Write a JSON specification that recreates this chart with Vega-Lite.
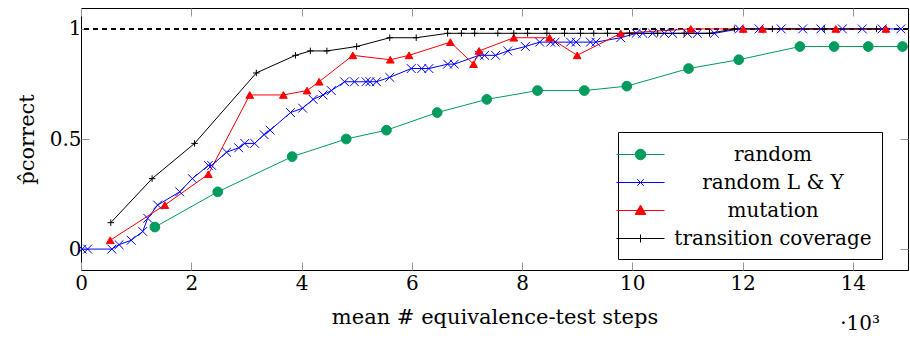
{
  "$schema": "https://vega.github.io/schema/vega-lite/v6.json",
  "width": 827,
  "height": 262,
  "autosize": {"type": "none"},
  "padding": {"left": 81, "top": 8, "right": 2, "bottom": 69},
  "config": {
    "font": "DejaVu Serif",
    "view": {"stroke": "black", "strokeWidth": 1},
    "axis": {
      "domain": false,
      "grid": false,
      "labelFlush": false,
      "tickColor": "#999999",
      "tickSize": -8,
      "tickWidth": 1,
      "labelFont": "DejaVu Serif",
      "labelFontSize": 20,
      "labelColor": "black",
      "titleFont": "DejaVu Serif",
      "titleFontSize": 21,
      "titleFontWeight": "normal",
      "titleColor": "black"
    },
    "legend": {
      "labelFont": "DejaVu Serif",
      "orient": "none",
      "legendX": 537,
      "legendY": 124,
      "padding": 10,
      "rowPadding": 5,
      "labelAlign": "center",
      "labelOffset": 120,
      "labelLimit": 400,
      "labelFontSize": 20,
      "labelColor": "black",
      "symbolSize": 576,
      "symbolStrokeWidth": 1,
      "symbolOpacity": 1,
      "strokeColor": "black",
      "fillColor": "white"
    }
  },
  "title": {
    "text": "·10³",
    "orient": "bottom",
    "anchor": "end",
    "frame": "group",
    "fontSize": 20,
    "fontWeight": "normal",
    "font": "DejaVu Serif",
    "color": "black",
    "dx": -28,
    "offset": -13
  },
  "data": {
    "values": [
      {"s": "random", "x": 1.34, "y": 0.10},
      {"s": "random", "x": 2.48, "y": 0.26},
      {"s": "random", "x": 3.83, "y": 0.42},
      {"s": "random", "x": 4.81, "y": 0.50},
      {"s": "random", "x": 5.54, "y": 0.54},
      {"s": "random", "x": 6.46, "y": 0.62},
      {"s": "random", "x": 7.36, "y": 0.68},
      {"s": "random", "x": 8.28, "y": 0.72},
      {"s": "random", "x": 9.13, "y": 0.72},
      {"s": "random", "x": 9.90, "y": 0.74},
      {"s": "random", "x": 11.02, "y": 0.82},
      {"s": "random", "x": 11.93, "y": 0.86},
      {"s": "random", "x": 13.04, "y": 0.92},
      {"s": "random", "x": 13.66, "y": 0.92},
      {"s": "random", "x": 14.28, "y": 0.92},
      {"s": "random", "x": 14.90, "y": 0.92},

      {"s": "random L & Y", "x": 0.02, "y": 0},
      {"s": "random L & Y", "x": 0.12, "y": 0},
      {"s": "random L & Y", "x": 0.56, "y": 0},
      {"s": "random L & Y", "x": 0.69, "y": 0.02},
      {"s": "random L & Y", "x": 0.91, "y": 0.04},
      {"s": "random L & Y", "x": 1.12, "y": 0.08},
      {"s": "random L & Y", "x": 1.21, "y": 0.14},
      {"s": "random L & Y", "x": 1.39, "y": 0.20},
      {"s": "random L & Y", "x": 1.79, "y": 0.26},
      {"s": "random L & Y", "x": 2.02, "y": 0.32},
      {"s": "random L & Y", "x": 2.31, "y": 0.38},
      {"s": "random L & Y", "x": 2.37, "y": 0.38},
      {"s": "random L & Y", "x": 2.64, "y": 0.44},
      {"s": "random L & Y", "x": 2.86, "y": 0.46},
      {"s": "random L & Y", "x": 2.97, "y": 0.48},
      {"s": "random L & Y", "x": 3.15, "y": 0.48},
      {"s": "random L & Y", "x": 3.32, "y": 0.52},
      {"s": "random L & Y", "x": 3.43, "y": 0.54},
      {"s": "random L & Y", "x": 3.80, "y": 0.62},
      {"s": "random L & Y", "x": 4.02, "y": 0.64},
      {"s": "random L & Y", "x": 4.21, "y": 0.68},
      {"s": "random L & Y", "x": 4.39, "y": 0.70},
      {"s": "random L & Y", "x": 4.54, "y": 0.72},
      {"s": "random L & Y", "x": 4.78, "y": 0.76},
      {"s": "random L & Y", "x": 4.96, "y": 0.76},
      {"s": "random L & Y", "x": 5.17, "y": 0.76},
      {"s": "random L & Y", "x": 5.24, "y": 0.76},
      {"s": "random L & Y", "x": 5.36, "y": 0.76},
      {"s": "random L & Y", "x": 5.60, "y": 0.78},
      {"s": "random L & Y", "x": 5.99, "y": 0.82},
      {"s": "random L & Y", "x": 6.18, "y": 0.82},
      {"s": "random L & Y", "x": 6.31, "y": 0.82},
      {"s": "random L & Y", "x": 6.65, "y": 0.84},
      {"s": "random L & Y", "x": 6.77, "y": 0.84},
      {"s": "random L & Y", "x": 7.22, "y": 0.88},
      {"s": "random L & Y", "x": 7.32, "y": 0.88},
      {"s": "random L & Y", "x": 7.52, "y": 0.88},
      {"s": "random L & Y", "x": 7.74, "y": 0.90},
      {"s": "random L & Y", "x": 8.06, "y": 0.92},
      {"s": "random L & Y", "x": 8.32, "y": 0.94},
      {"s": "random L & Y", "x": 8.52, "y": 0.94},
      {"s": "random L & Y", "x": 8.60, "y": 0.94},
      {"s": "random L & Y", "x": 8.88, "y": 0.94},
      {"s": "random L & Y", "x": 8.98, "y": 0.94},
      {"s": "random L & Y", "x": 9.24, "y": 0.94},
      {"s": "random L & Y", "x": 9.34, "y": 0.94},
      {"s": "random L & Y", "x": 9.79, "y": 0.96},
      {"s": "random L & Y", "x": 10.07, "y": 0.98},
      {"s": "random L & Y", "x": 10.19, "y": 0.98},
      {"s": "random L & Y", "x": 10.37, "y": 0.98},
      {"s": "random L & Y", "x": 10.58, "y": 0.98},
      {"s": "random L & Y", "x": 10.73, "y": 0.98},
      {"s": "random L & Y", "x": 11.00, "y": 0.98},
      {"s": "random L & Y", "x": 11.18, "y": 0.98},
      {"s": "random L & Y", "x": 11.49, "y": 0.98},
      {"s": "random L & Y", "x": 11.94, "y": 1},
      {"s": "random L & Y", "x": 12.30, "y": 1},
      {"s": "random L & Y", "x": 12.70, "y": 1},
      {"s": "random L & Y", "x": 13.09, "y": 1},
      {"s": "random L & Y", "x": 13.42, "y": 1},
      {"s": "random L & Y", "x": 13.81, "y": 1},
      {"s": "random L & Y", "x": 14.17, "y": 1},
      {"s": "random L & Y", "x": 14.53, "y": 1},
      {"s": "random L & Y", "x": 14.87, "y": 1},

      {"s": "mutation", "x": 0.53, "y": 0.04},
      {"s": "mutation", "x": 1.52, "y": 0.20},
      {"s": "mutation", "x": 2.31, "y": 0.34},
      {"s": "mutation", "x": 3.06, "y": 0.70},
      {"s": "mutation", "x": 3.67, "y": 0.70},
      {"s": "mutation", "x": 4.10, "y": 0.72},
      {"s": "mutation", "x": 4.32, "y": 0.76},
      {"s": "mutation", "x": 4.93, "y": 0.88},
      {"s": "mutation", "x": 5.61, "y": 0.86},
      {"s": "mutation", "x": 5.95, "y": 0.88},
      {"s": "mutation", "x": 6.70, "y": 0.94},
      {"s": "mutation", "x": 7.12, "y": 0.84},
      {"s": "mutation", "x": 7.22, "y": 0.90},
      {"s": "mutation", "x": 7.85, "y": 0.96},
      {"s": "mutation", "x": 8.50, "y": 0.96},
      {"s": "mutation", "x": 9.00, "y": 0.88},
      {"s": "mutation", "x": 9.79, "y": 0.98},
      {"s": "mutation", "x": 11.06, "y": 1},
      {"s": "mutation", "x": 12.01, "y": 1},
      {"s": "mutation", "x": 12.36, "y": 1},
      {"s": "mutation", "x": 13.69, "y": 1},
      {"s": "mutation", "x": 14.60, "y": 1},

      {"s": "transition coverage", "x": 0.54, "y": 0.12},
      {"s": "transition coverage", "x": 1.29, "y": 0.32},
      {"s": "transition coverage", "x": 2.06, "y": 0.48},
      {"s": "transition coverage", "x": 3.18, "y": 0.80},
      {"s": "transition coverage", "x": 3.89, "y": 0.88},
      {"s": "transition coverage", "x": 4.16, "y": 0.90},
      {"s": "transition coverage", "x": 4.46, "y": 0.90},
      {"s": "transition coverage", "x": 5.00, "y": 0.92},
      {"s": "transition coverage", "x": 5.60, "y": 0.96},
      {"s": "transition coverage", "x": 6.08, "y": 0.96},
      {"s": "transition coverage", "x": 6.65, "y": 0.98},
      {"s": "transition coverage", "x": 6.90, "y": 0.98},
      {"s": "transition coverage", "x": 7.14, "y": 0.98},
      {"s": "transition coverage", "x": 7.56, "y": 0.98},
      {"s": "transition coverage", "x": 7.85, "y": 0.98},
      {"s": "transition coverage", "x": 8.10, "y": 0.98},
      {"s": "transition coverage", "x": 8.45, "y": 0.98},
      {"s": "transition coverage", "x": 8.77, "y": 0.98},
      {"s": "transition coverage", "x": 9.06, "y": 0.98},
      {"s": "transition coverage", "x": 9.30, "y": 0.98},
      {"s": "transition coverage", "x": 9.55, "y": 0.98},
      {"s": "transition coverage", "x": 9.95, "y": 0.98},
      {"s": "transition coverage", "x": 10.46, "y": 0.98},
      {"s": "transition coverage", "x": 10.94, "y": 0.98},
      {"s": "transition coverage", "x": 11.40, "y": 0.98},
      {"s": "transition coverage", "x": 11.85, "y": 1},
      {"s": "transition coverage", "x": 12.54, "y": 1},
      {"s": "transition coverage", "x": 13.48, "y": 1},
      {"s": "transition coverage", "x": 14.43, "y": 1}
    ]
  },
  "layer": [
    {
      "mark": {"type": "rule", "color": "black", "strokeWidth": 1, "strokeDash": [5, 4]},
      "encoding": {
        "y": {"datum": 1, "type": "quantitative", "scale": {"domain": [-0.095, 1.095], "nice": false, "zero": false}, "axis": null}
      }
    },
    {
      "mark": {"type": "line", "strokeWidth": 1, "opacity": 1},
      "encoding": {
        "x": {
          "field": "x", "type": "quantitative",
          "scale": {"domain": [0, 15], "nice": false, "zero": false},
          "axis": {"orient": "bottom", "values": [0, 2, 4, 6, 8, 10, 12, 14], "format": "d", "title": "mean # equivalence-test steps", "labelPadding": 11, "titlePadding": 13}
        },
        "y": {
          "field": "y", "type": "quantitative",
          "scale": {"domain": [-0.095, 1.095], "nice": false, "zero": false},
          "axis": {"orient": "left", "values": [0, 0.5, 1], "labelExpr": "'' + datum.value", "title": "p̂correct", "labelPadding": 8, "titlePadding": 12}
        },
        "stroke": {
          "field": "s", "type": "nominal",
          "scale": {"domain": ["random", "random L & Y", "mutation", "transition coverage"], "range": ["#009b5e", "#0000ff", "#ff0000", "#000000"]},
          "legend": null
        }
      }
    },
    {
      "mark": {"type": "point", "filled": true, "opacity": 1, "strokeWidth": 1},
      "encoding": {
        "x": {
          "field": "x", "type": "quantitative",
          "scale": {"domain": [0, 15], "nice": false, "zero": false},
          "axis": {"orient": "top", "values": [0, 2, 4, 6, 8, 10, 12, 14], "labels": false, "title": null}
        },
        "y": {
          "field": "y", "type": "quantitative",
          "scale": {"domain": [-0.095, 1.095], "nice": false, "zero": false},
          "axis": {"orient": "right", "values": [0, 0.5, 1], "labels": false, "title": null}
        },
        "color": {
          "field": "s", "type": "nominal",
          "scale": {"domain": ["random", "random L & Y", "mutation", "transition coverage"], "range": ["#009b5e", "#0000ff", "#ff0000", "#000000"]},
          "legend": null
        },
        "stroke": {
          "field": "s", "type": "nominal",
          "scale": {"domain": ["random", "random L & Y", "mutation", "transition coverage"], "range": ["#009b5e", "#0000ff", "#ff0000", "#000000"]},
          "legend": null
        },
        "shape": {
          "field": "s", "type": "nominal",
          "scale": {"domain": ["random", "random L & Y", "mutation", "transition coverage"], "range": ["circle", "M-1,-1L1,1M-1,1L1,-1", "triangle-up", "M-1,0L1,0M0,-1L0,1"]},
          "legend": null
        },
        "size": {
          "field": "s", "type": "nominal",
          "scale": {"domain": ["random", "random L & Y", "mutation", "transition coverage"], "range": [95, 42, 110, 64]},
          "legend": null
        }
      }
    },
    {
      "mark": {"type": "point", "filled": true, "opacity": 0, "strokeWidth": 1},
      "encoding": {
        "x": {"field": "x", "type": "quantitative", "scale": {"domain": [0, 15], "nice": false, "zero": false}, "axis": null},
        "y": {"field": "y", "type": "quantitative", "scale": {"domain": [-0.095, 1.095], "nice": false, "zero": false}, "axis": null},
        "color": {
          "field": "s", "type": "nominal", "title": null,
          "scale": {"domain": ["random", "random L & Y", "mutation", "transition coverage"], "range": ["#009b5e", "#0000ff", "#ff0000", "#000000"]},
          "legend": {"title": null, "symbolOpacity": 1, "symbolSize": 576}
        },
        "stroke": {
          "field": "s", "type": "nominal", "title": null,
          "scale": {"domain": ["random", "random L & Y", "mutation", "transition coverage"], "range": ["#009b5e", "#0000ff", "#ff0000", "#000000"]},
          "legend": {"title": null, "symbolOpacity": 1, "symbolSize": 576}
        },
        "shape": {
          "field": "s", "type": "nominal", "title": null,
          "scale": {"domain": ["random", "random L & Y", "mutation", "transition coverage"], "range": [
            "M-2,0L2,0M0.44,0A0.44,0.44,0,1,1,-0.44,0A0.44,0.44,0,1,1,0.44,0Z",
            "M-2,0L2,0M-0.27,-0.27L0.27,0.27M-0.27,0.27L0.27,-0.27",
            "M-2,0L2,0M0,-0.45L-0.44,0.33L0.44,0.33Z",
            "M-2,0L2,0M-0.33,0L0.33,0M0,-0.33L0,0.33"
          ]},
          "legend": {"title": null, "symbolOpacity": 1, "symbolSize": 576}
        }
      }
    }
  ],
  "resolve": {
    "axis": {"x": "independent", "y": "independent"},
    "scale": {"shape": "independent", "color": "independent", "stroke": "independent"},
    "legend": {"shape": "independent", "color": "independent", "stroke": "independent"}
  }
}
